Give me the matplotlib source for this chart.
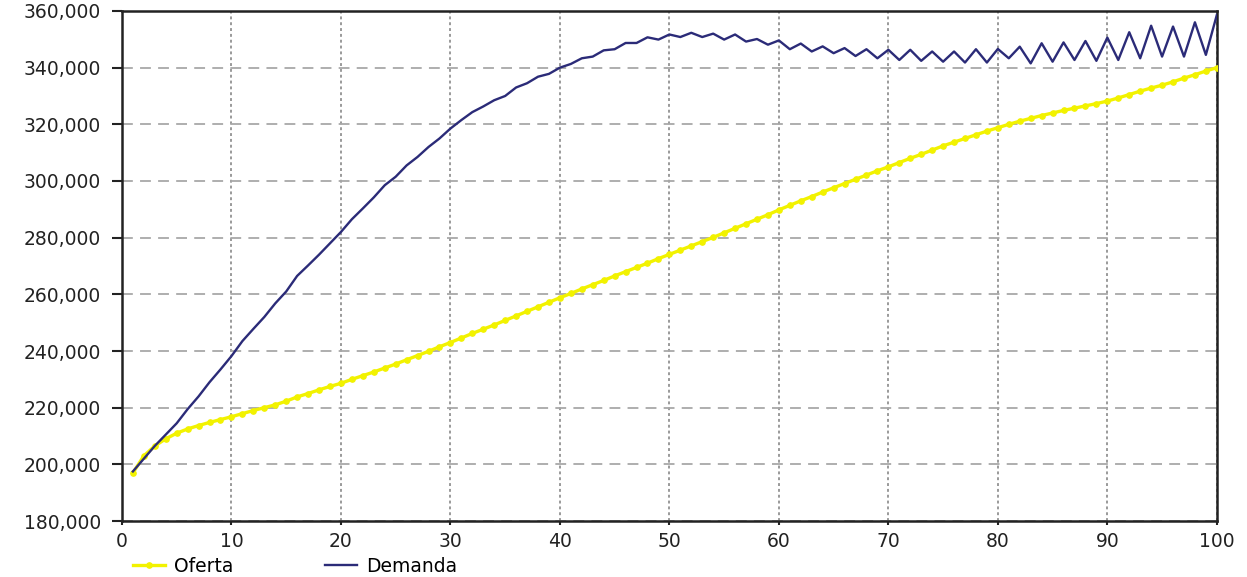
import matplotlib
matplotlib.use("Agg")
import matplotlib.pyplot as plt
from matplotlib.ticker import StrMethodFormatter
from matplotlib.lines import Line2D

# time steps (one point per period)
periodos = list(range(1, 101))

oferta = [
    197000, 203000, 206500, 209000, 211000, 212500, 213700, 214800, 215800, 216800,
    217900, 219000, 220000, 221000, 222300, 223800, 225000, 226300, 227500, 228600,
    230000, 231300, 232600, 234000, 235400, 236900, 238400, 239900, 241500, 243000,
    244600, 246200, 247700, 249200, 250800, 252400, 254000, 255600, 257200, 258800,
    260300, 261900, 263400, 264900, 266500, 268000, 269500, 271000, 272600, 274100,
    275600, 277100, 278600, 280100, 281700, 283300, 284900, 286500, 288100, 289800,
    291400, 293000, 294500, 296100, 297600, 299100, 300600, 302100, 303600, 305000,
    306500, 308000, 309400, 310900, 312400, 313700, 315000, 316300, 317600, 318800,
    320000, 321100, 322100, 323100, 324000, 324900, 325700, 326500, 327300, 328200,
    329300, 330500, 331700, 332800, 333800, 335000, 336300, 337500, 338800, 340000,
]

demanda = [
    197500, 202000, 206500, 210500, 214500, 219500, 224000, 229000, 233500, 238200,
    243500, 247800, 252000, 256800, 261000, 266500, 270200, 274000, 278000, 282000,
    286500, 290300, 294200, 298500, 301500, 305500, 308500, 312000, 315000, 318500,
    321500, 324300, 326300, 328500, 330000, 333000, 334500, 336800, 337800, 340000,
    341300, 343300, 343900, 346100, 346500, 348700, 348700, 350700, 349900, 351700,
    350800, 352300, 350800, 352000, 349900, 351700, 349200, 350100, 348100, 349600,
    346500, 348500, 345700, 347500, 345100, 346900, 344100, 346500, 343300, 346300,
    342700, 346300, 342400, 345700, 342100, 345700, 341800, 346500, 341800, 346600,
    343300, 347400, 341500, 348600, 342100, 348900, 342700, 349400, 342400, 350600,
    342700, 352500, 343300, 354800, 343900, 354500, 343900, 356000, 344500, 358600,
]

x_ticks = [0, 10, 20, 30, 40, 50, 60, 70, 80, 90, 100]
y_ticks = [180000, 200000, 220000, 240000, 260000, 280000, 300000, 320000, 340000, 360000]

AMARILLO = "#f2f200"
AZUL = "#2b2b78"
FS = 13.5

fig = plt.figure(figsize=(12.47, 5.77), dpi=100)
ax = fig.add_axes([0.0978, 0.097, 0.878, 0.884])

ax.plot(periodos, oferta, color=AMARILLO, lw=2.4, marker="o", ms=3.8,
        mec=AMARILLO, mfc=AMARILLO, zorder=3)
ax.plot(periodos, demanda, color=AZUL, lw=1.7, zorder=4)

ax.set_xlim(0, 100)
ax.set_ylim(180000, 360000)
ax.set_xticks(x_ticks)
ax.set_yticks(y_ticks)
ax.yaxis.set_major_formatter(StrMethodFormatter("{x:,.0f}"))

# grid: dotted verticals, dashed horizontals
ax.xaxis.grid(True, color="#9a9a9a", lw=1.4, linestyle=(0, (1.5, 1.5)))
ax.yaxis.grid(True, color="#a8a8a8", lw=1.3, linestyle=(0, (6, 4)))
ax.set_axisbelow(True)

for s in ax.spines.values():
    s.set_color("#222222")
    s.set_linewidth(1.8)

ax.tick_params(axis="y", length=7, width=1.5, pad=8, labelsize=FS, colors="#222222")
ax.tick_params(axis="x", length=3, width=1.5, pad=5, labelsize=FS, colors="#222222")

handles = [
    Line2D([], [], color=AMARILLO, lw=2.4, marker="o", ms=3.8, markevery=[0, 2, 4]),
    Line2D([], [], color=AZUL, lw=1.7),
]
fig.legend(handles, ["Oferta", "Demanda"], loc="center left",
           bbox_to_anchor=(0.093, 0.019), ncol=2, frameon=False,
           fontsize=FS, handlelength=1.7, handletextpad=0.5, columnspacing=4.9)

fig.savefig("out.png", dpi=100, facecolor="white")
